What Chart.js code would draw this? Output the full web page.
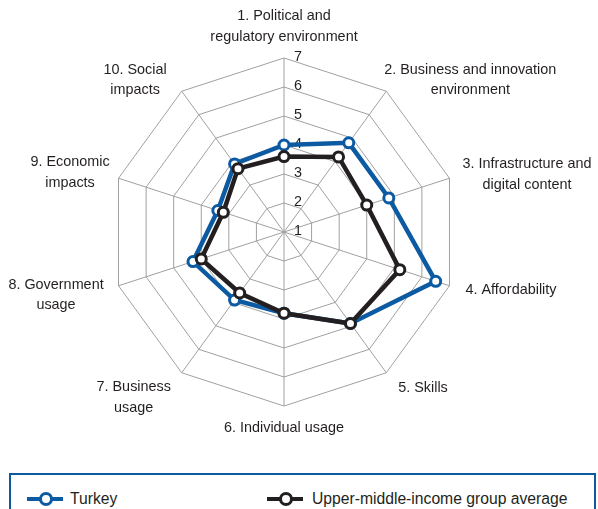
<!DOCTYPE html>
<html>
<head>
<meta charset="utf-8">
<script src="https://cdn.jsdelivr.net/npm/chart.js@4.4.1/dist/chart.umd.min.js"></script>
<style>
  body { margin: 0; background: #fff; width: 598px; height: 509px; overflow: hidden; position: relative;
         font-family: "Liberation Sans", Arial, sans-serif; color: #231f20; }
  #chart { position: absolute; left: 0; top: 0; }
  .legend { position: absolute; left: 9px; top: 473px; width: 583px; height: 60px; border: 2px solid #0b5aa2; }
  .item { position: absolute; top: 14px; height: 20px; font-size: 16px; line-height: 20px; }
  .icon { position: absolute; top: 8px; width: 36px; height: 4px; }
  .icon i { position: absolute; left: 12px; top: -5px; width: 8px; height: 8px; border-radius: 50%; background: #fff; border: 3px solid; }
  .item span.txt { position: absolute; white-space: nowrap; transform: scaleX(0.98); transform-origin: 0 50%; }
</style>
</head>
<body>
<canvas id="chart" width="598" height="460"></canvas>
<div class="legend" id="legend"></div>
<script>
const categories = [
  ["1. Political and", "regulatory environment"],
  ["2. Business and innovation", "environment"],
  ["3. Infrastructure and", "digital content"],
  ["4. Affordability"],
  ["5. Skills"],
  ["6. Individual usage"],
  ["7. Business", "usage"],
  ["8. Government", "usage"],
  ["9. Economic", "impacts"],
  ["10. Social", "impacts"]
];
const seriesNames = ["Turkey", "Upper-middle-income group average"];
const turkey = [4.0, 4.8, 4.8, 6.5, 4.9, 3.8, 3.9, 4.3, 3.4, 3.9];
const groupAverage = [3.6, 4.2, 4.0, 5.2, 4.9, 3.8, 3.6, 4.0, 3.2, 3.7];
const tickValues = [1, 2, 3, 4, 5, 6, 7];

const blue = "#0b5aa2";
const black = "#231f20";
const fontFamily = '"Liberation Sans", Arial, sans-serif';

// label centres relative to the outer vertex of each spoke
const labelOffsets = [[0, -31.5], [84, -11.5], [77.5, -4], [61.5, 4.2], [36.7, 15.2],
                      [0, 22], [-48, 24.7], [-62.5, 9.2], [-48.5, -6], [-46.7, -11.2]];

function drawText(ctx, text, x, y) {
  ctx.save();
  ctx.translate(x, y);
  ctx.scale(0.96, 1);
  ctx.fillText(text, 0, 0);
  ctx.restore();
}

const labelPlugin = {
  id: "labels",
  beforeDatasetsDraw(chart) {
    const scale = chart.scales.r;
    const ctx = chart.ctx;
    ctx.save();
    ctx.font = "15px " + fontFamily;
    ctx.fillStyle = black;
    ctx.textAlign = "center";
    ctx.textBaseline = "middle";
    tickValues.forEach(v => {
      const d = scale.getDistanceFromCenterForValue(v);
      drawText(ctx, String(v), scale.xCenter + 14, scale.yCenter - d - 1);
    });
    categories.forEach((lines, i) => {
      const p = scale.getPointPosition(i, scale.drawingArea);
      const cx = p.x + labelOffsets[i][0];
      const cy = p.y + labelOffsets[i][1];
      const lh = 20.5;
      lines.forEach((line, j) => {
        drawText(ctx, line, cx, cy + (j - (lines.length - 1) / 2) * lh);
      });
    });
    ctx.restore();
  }
};

new Chart(document.getElementById("chart"), {
  type: "radar",
  data: {
    labels: categories,
    datasets: [
      {
        label: seriesNames[0],
        data: turkey,
        borderColor: blue,
        borderWidth: 4.5,
        pointRadius: 5,
        pointBorderWidth: 3,
        pointBackgroundColor: "#fff",
        pointBorderColor: blue,
        fill: false,
        order: 1
      },
      {
        label: seriesNames[1],
        data: groupAverage,
        borderColor: black,
        borderWidth: 4.5,
        pointRadius: 5,
        pointBorderWidth: 3,
        pointBackgroundColor: "#fff",
        pointBorderColor: black,
        fill: false,
        order: 0
      }
    ]
  },
  options: {
    responsive: false,
    animation: false,
    devicePixelRatio: 1,
    layout: { padding: { left: 110, right: 140, top: 58, bottom: 54 } },
    plugins: { legend: { display: false }, tooltip: { enabled: false } },
    elements: { line: { tension: 0 } },
    scales: {
      r: {
        min: 1,
        max: 7,
        ticks: { stepSize: 1, display: false },
        pointLabels: { display: false },
        grid: { color: "#a0a0a0", lineWidth: 1 },
        angleLines: { color: "#a0a0a0", lineWidth: 1 }
      }
    }
  },
  plugins: [labelPlugin]
});

// legend
const legend = document.getElementById("legend");
const legendX = [[16, 59], [256, 301]];
seriesNames.forEach((name, i) => {
  const color = i === 0 ? blue : black;
  const item = document.createElement("div");
  item.className = "item";
  item.style.left = legendX[i][0] + "px";
  item.innerHTML = '<div class="icon" style="background:' + color + '"><i style="border-color:' + color + '"></i></div>' +
    '<span class="txt" style="left:' + (legendX[i][1] - legendX[i][0]) + 'px">' + name + '</span>';
  legend.appendChild(item);
});
</script>
</body>
</html>
